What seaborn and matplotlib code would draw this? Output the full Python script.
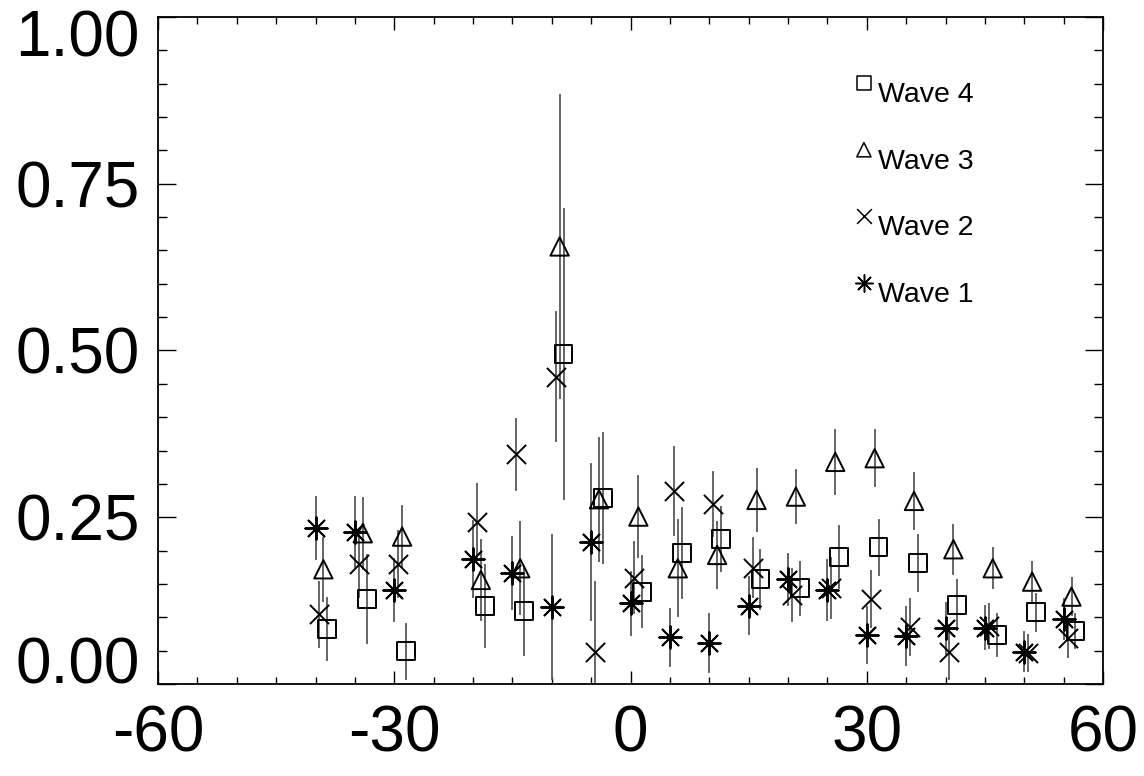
import numpy as np
import matplotlib
matplotlib.use("Agg")
import matplotlib.pyplot as plt
import matplotlib.transforms as mtransforms
import seaborn as sns
from matplotlib.ticker import FixedLocator, MultipleLocator

# Bin centres shared by all waves; each wave is shifted slightly so the bars do not overlap
bins = [-40, -35, -30, -20, -15, -10, -5, 0, 5, 10, 15, 20, 25, 30, 35, 40, 45, 50, 55]
offsets = {"Wave 1": 0.0, "Wave 2": 0.5, "Wave 3": 1.0, "Wave 4": 1.5}

wave1_y = [0.234, 0.228, 0.141, 0.188, 0.166, 0.1155, 0.213, 0.121, 0.070, 0.062,
           0.1175, 0.157, 0.141, 0.0735, 0.072, 0.0835, 0.0845, 0.0485, 0.097]
wave1_err = [0.046, 0.0525, 0.0465, 0.057, 0.054, 0.1075, 0.117, 0.0475, 0.043, 0.0435,
             0.0425, 0.038, 0.0455, 0.0425, 0.043, 0.0385, 0.0325, 0.029, 0.030]

wave2_y = [0.1045, 0.18, 0.18, 0.2435, 0.3445, 0.461, 0.048, 0.1595, 0.2895, 0.2695,
           0.1745, 0.1335, 0.1435, 0.1275, 0.086, 0.0485, 0.0875, 0.047, 0.0685]
wave2_err = [0.049, 0.05, 0.05, 0.057, 0.053, 0.097, 0.105, 0.053, 0.066, 0.048,
             0.044, 0.039, 0.045, 0.0425, 0.042, 0.0405, 0.033, 0.027, 0.0285]

wave3_y = [0.172, 0.226, 0.221, 0.156, 0.1735, 0.656, 0.277, 0.251, 0.1735, 0.1935,
           0.276, 0.281, 0.333, 0.3385, 0.2745, 0.202, 0.1735, 0.1535, 0.131]
wave3_err = [0.0475, 0.053, 0.0465, 0.06, 0.069, 0.227, 0.0925, 0.061, 0.072, 0.0495,
             0.046, 0.04, 0.0475, 0.042, 0.042, 0.037, 0.030, 0.029, 0.0275]

wave4_y = [0.083, 0.128, 0.049, 0.117, 0.109, 0.4945, 0.279, 0.1385, 0.196, 0.2175,
           0.157, 0.1435, 0.190, 0.205, 0.182, 0.1185, 0.0735, 0.1075, 0.080]
wave4_err = [0.0465, 0.066, 0.041, 0.061, 0.065, 0.217, 0.098, 0.053, 0.0675, 0.048,
             0.044, 0.04, 0.0465, 0.041, 0.042, 0.038, 0.031, 0.028, 0.0255]

xticks = [-60, -30, 0, 30, 60]
xtick_labels = ["-60", "-30", "0", "30", "60"]
yticks = [0.0, 0.25, 0.50, 0.75, 1.00]
ytick_labels = ["0.00", "0.25", "0.50", "0.75", "1.00"]

sns.set_theme(style="ticks")
plt.rcParams["font.family"] = ["Liberation Sans", "DejaVu Sans"]
plt.rcParams["axes.unicode_minus"] = False

fig = plt.figure(figsize=(11.44, 7.76), dpi=100)
fig.patch.set_facecolor("white")
ax = fig.add_axes([158 / 1144, 92 / 776, 945 / 1144, 667 / 776])
ax.set_facecolor("white")

open_style = dict(facecolor="none", edgecolor="black", linewidth=1.4)
line_style = dict(color="black", linewidth=1.4)
series = [
    ("Wave 4", wave4_y, wave4_err, dict(marker="s", **open_style), 165),
    ("Wave 3", wave3_y, wave3_err, dict(marker="^", **open_style), 175),
    ("Wave 2", wave2_y, wave2_err, dict(marker="x", **line_style), 190),
    ("Wave 1", wave1_y, wave1_err, dict(marker=(8, 2, 0), **line_style), 260),
]

for name, y, err, style, size in series:
    x = np.asarray(bins, dtype=float) + offsets[name]
    ax.errorbar(x, y, yerr=err, fmt="none", ecolor="#5a5a5a", elinewidth=1.3,
                capsize=1, capthick=1.2, zorder=2)
    sns.scatterplot(x=x, y=y, ax=ax, s=size, zorder=3, legend=False, **style)

# Key in the upper right: small symbol raised beside each label
for i, (name, _, _, style, size) in enumerate(series):
    ty = 0.883 - i * 0.1
    key_style = dict(style, linewidth=1.1)
    ax.scatter([0.747], [ty + 0.018], transform=ax.transAxes, s=size * 0.6, zorder=4,
               clip_on=False, **key_style)
    ax.text(0.762, ty, name, transform=ax.transAxes, fontsize=20.5,
            va="center", ha="left", color="black")

ax.set_xlim(-60, 60)
ax.set_ylim(0, 1)
ax.set_xlabel("")
ax.set_ylabel("")
ax.xaxis.set_major_locator(FixedLocator(xticks))
ax.xaxis.set_minor_locator(MultipleLocator(5))
ax.yaxis.set_major_locator(FixedLocator(yticks))
ax.yaxis.set_minor_locator(MultipleLocator(0.05))
ax.set_xticklabels(xtick_labels)
ax.set_yticklabels(ytick_labels)

ax.tick_params(which="both", direction="in", top=True, right=True,
               colors="black", width=1.0)
ax.tick_params(axis="x", which="major", length=9.5, pad=15, labelsize=46)
ax.tick_params(axis="x", which="minor", length=5)
ax.tick_params(axis="y", which="major", length=13, pad=13, labelsize=46)
ax.tick_params(axis="y", which="minor", length=6.5)

# Keep the end labels of the value axis inside the frame height
ylabels = ax.get_yticklabels()
ylabels[0].set_va("baseline")
ylabels[-1].set_va("top")
ylabels[-1].set_transform(ylabels[-1].get_transform() +
                          mtransforms.ScaledTranslation(0, 7 / 100, fig.dpi_scale_trans))

for sp in ax.spines.values():
    sp.set_visible(True)
    sp.set_color("black")
    sp.set_linewidth(1.3)

fig.savefig("out.png", dpi=100, facecolor="white")
